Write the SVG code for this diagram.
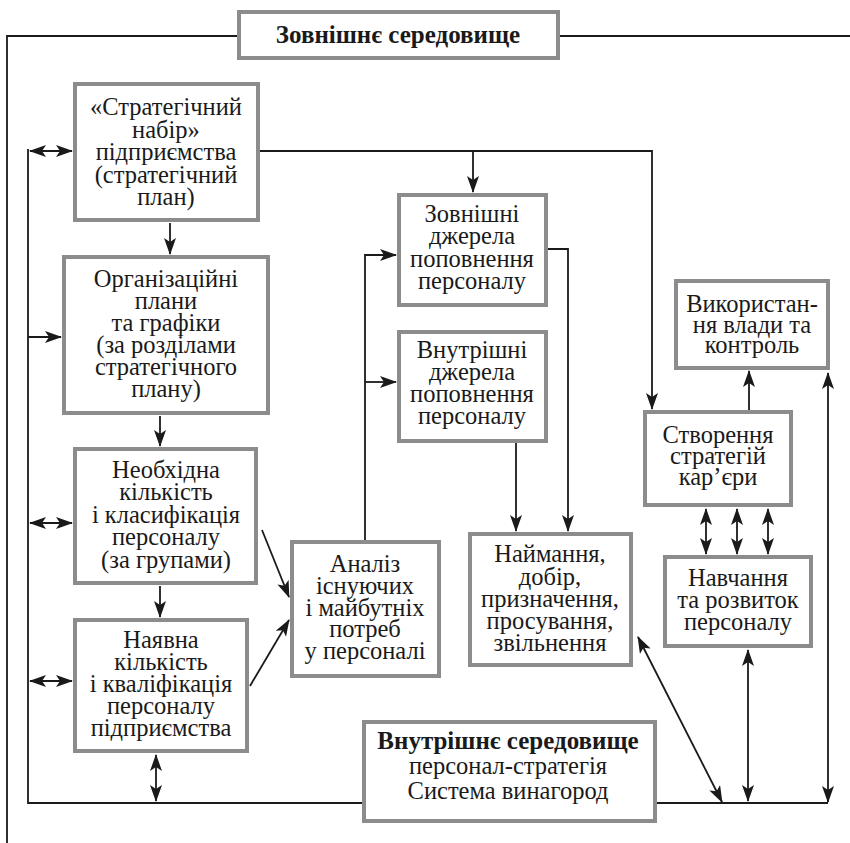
<svg xmlns="http://www.w3.org/2000/svg" width="850" height="843" viewBox="0 0 850 843">
<defs>
<style>
.box{fill:#fff;stroke:#8c8c8c;stroke-width:4}
.t{font-family:'Liberation Serif','Times New Roman',serif;font-size:24.5px;fill:#1a1a1a;text-anchor:middle}
.b{font-weight:bold;font-size:25px}
.ln{fill:none;stroke:#1a1a1a;stroke-width:1.8}
.a{marker-end:url(#ah)}
.d{marker-start:url(#ah);marker-end:url(#ah)}
</style>
<marker id="ah" markerUnits="userSpaceOnUse" markerWidth="17" markerHeight="12" viewBox="0 0 17 12" refX="16" refY="6" orient="auto-start-reverse">
<path d="M0,0 L17,6 L0,12 L4,6 z" fill="#1a1a1a"/>
</marker>
</defs>
<rect width="850" height="843" fill="#fff"/>

<g id="connectors">
<polyline class="ln" points="237,36 7,36 7,843"/>
<line class="ln" x1="560" y1="36" x2="850" y2="36"/>
<polyline class="ln" points="28,149 28,803 362,803"/>
<line class="ln d" x1="30" y1="151" x2="72" y2="151"/>
<line class="ln a" x1="28" y1="337" x2="61" y2="337"/>
<line class="ln d" x1="30" y1="523" x2="72" y2="523"/>
<line class="ln d" x1="30" y1="681" x2="72" y2="681"/>
<line class="ln d" x1="156" y1="755" x2="156" y2="801"/>
<line class="ln a" x1="170" y1="223" x2="170" y2="254"/>
<line class="ln a" x1="160" y1="416" x2="160" y2="446"/>
<line class="ln a" x1="160" y1="586" x2="160" y2="617"/>
<line class="ln a" x1="262" y1="530" x2="289" y2="597"/>
<line class="ln a" x1="250" y1="686" x2="289" y2="620"/>
<polyline class="ln a" points="365,540 365,255 396,255"/>
<line class="ln a" x1="365" y1="382" x2="396" y2="382"/>
<polyline class="ln a" points="260,151 652,151 652,409"/>
<line class="ln a" x1="473" y1="151" x2="473" y2="192"/>
<polyline class="ln a" points="548,249 568,249 568,531"/>
<line class="ln a" x1="516" y1="443" x2="516" y2="531"/>
<line class="ln a" x1="749" y1="410" x2="749" y2="371"/>
<line class="ln d" x1="706" y1="509" x2="706" y2="554"/>
<line class="ln d" x1="737" y1="509" x2="737" y2="554"/>
<line class="ln d" x1="768" y1="509" x2="768" y2="554"/>
<line class="ln d" x1="748" y1="650" x2="748" y2="801"/>
<line class="ln d" x1="638" y1="637" x2="722" y2="802"/>
<line class="ln" x1="655" y1="803" x2="828" y2="803"/>
<line class="ln d" x1="828" y1="802" x2="828" y2="373"/>
</g>

<g id="external">
<rect class="box" x="239" y="12" width="319" height="46"/>
<text class="t b" x="398" y="43">Зовнішнє середовище</text>
</g>

<g id="strategic-set">
<rect class="box" x="75" y="84" width="183" height="136"/>
<text class="t"><tspan x="166" y="115">«Стратегічний</tspan><tspan x="166" y="138">набір»</tspan><tspan x="166" y="160">підприємства</tspan><tspan x="166" y="183">(стратегічний</tspan><tspan x="166" y="205">план)</tspan></text>
</g>

<g id="org-plans">
<rect class="box" x="64" y="257" width="204" height="156"/>
<text class="t"><tspan x="166" y="287">Організаційні</tspan><tspan x="166" y="309">плани</tspan><tspan x="166" y="331">та графіки</tspan><tspan x="166" y="353">(за розділами</tspan><tspan x="166" y="375">стратегічного</tspan><tspan x="166" y="397">плану)</tspan></text>
</g>

<g id="required">
<rect class="box" x="75" y="449" width="181" height="134"/>
<text class="t"><tspan x="166" y="478">Необхідна</tspan><tspan x="166" y="500">кількість</tspan><tspan x="166" y="523">і класифікація</tspan><tspan x="166" y="545">персоналу</tspan><tspan x="166" y="568">(за групами)</tspan></text>
</g>

<g id="available">
<rect class="box" x="75" y="620" width="172" height="131"/>
<text class="t"><tspan x="161" y="648">Наявна</tspan><tspan x="161" y="670">кількість</tspan><tspan x="161" y="692">і кваліфікація</tspan><tspan x="161" y="714">персоналу</tspan><tspan x="161" y="736">підприємства</tspan></text>
</g>

<g id="analysis">
<rect class="box" x="292" y="542" width="147" height="134"/>
<text class="t"><tspan x="365" y="572">Аналіз</tspan><tspan x="365" y="594">існуючих</tspan><tspan x="365" y="616">і майбутніх</tspan><tspan x="365" y="637">потреб</tspan><tspan x="365" y="659">у персоналі</tspan></text>
</g>

<g id="external-sources">
<rect class="box" x="399" y="195" width="147" height="110"/>
<text class="t"><tspan x="472" y="222">Зовнішні</tspan><tspan x="472" y="244">джерела</tspan><tspan x="472" y="267">поповнення</tspan><tspan x="472" y="289">персоналу</tspan></text>
</g>

<g id="internal-sources">
<rect class="box" x="399" y="332" width="147" height="109"/>
<text class="t"><tspan x="472" y="358">Внутрішні</tspan><tspan x="472" y="380">джерела</tspan><tspan x="472" y="402">поповнення</tspan><tspan x="472" y="424">персоналу</tspan></text>
</g>

<g id="hiring">
<rect class="box" x="470" y="534" width="161" height="131"/>
<text class="t"><tspan x="550" y="562">Наймання,</tspan><tspan x="550" y="585">добір,</tspan><tspan x="550" y="607">призначення,</tspan><tspan x="550" y="629">просування,</tspan><tspan x="550" y="651">звільнення</tspan></text>
</g>

<g id="power">
<rect class="box" x="676" y="281" width="152" height="87"/>
<text class="t"><tspan x="752" y="312">Використан-</tspan><tspan x="752" y="333">ня влади та</tspan><tspan x="752" y="353">контроль</tspan></text>
</g>

<g id="career">
<rect class="box" x="645" y="412" width="146" height="93"/>
<text class="t"><tspan x="718" y="443">Створення</tspan><tspan x="718" y="464">стратегій</tspan><tspan x="718" y="485">кар’єри</tspan></text>
</g>

<g id="training">
<rect class="box" x="665" y="557" width="146" height="89"/>
<text class="t"><tspan x="738" y="586">Навчання</tspan><tspan x="738" y="608">та розвиток</tspan><tspan x="738" y="630">персоналу</tspan></text>
</g>

<g id="internal">
<rect class="box" x="364" y="722" width="291" height="99"/>
<text class="t"><tspan class="b" x="508" y="749">Внутрішнє середовище</tspan><tspan x="508" y="774">персонал-стратегія</tspan><tspan x="508" y="799">Система винагород</tspan></text>
</g>
</svg>
